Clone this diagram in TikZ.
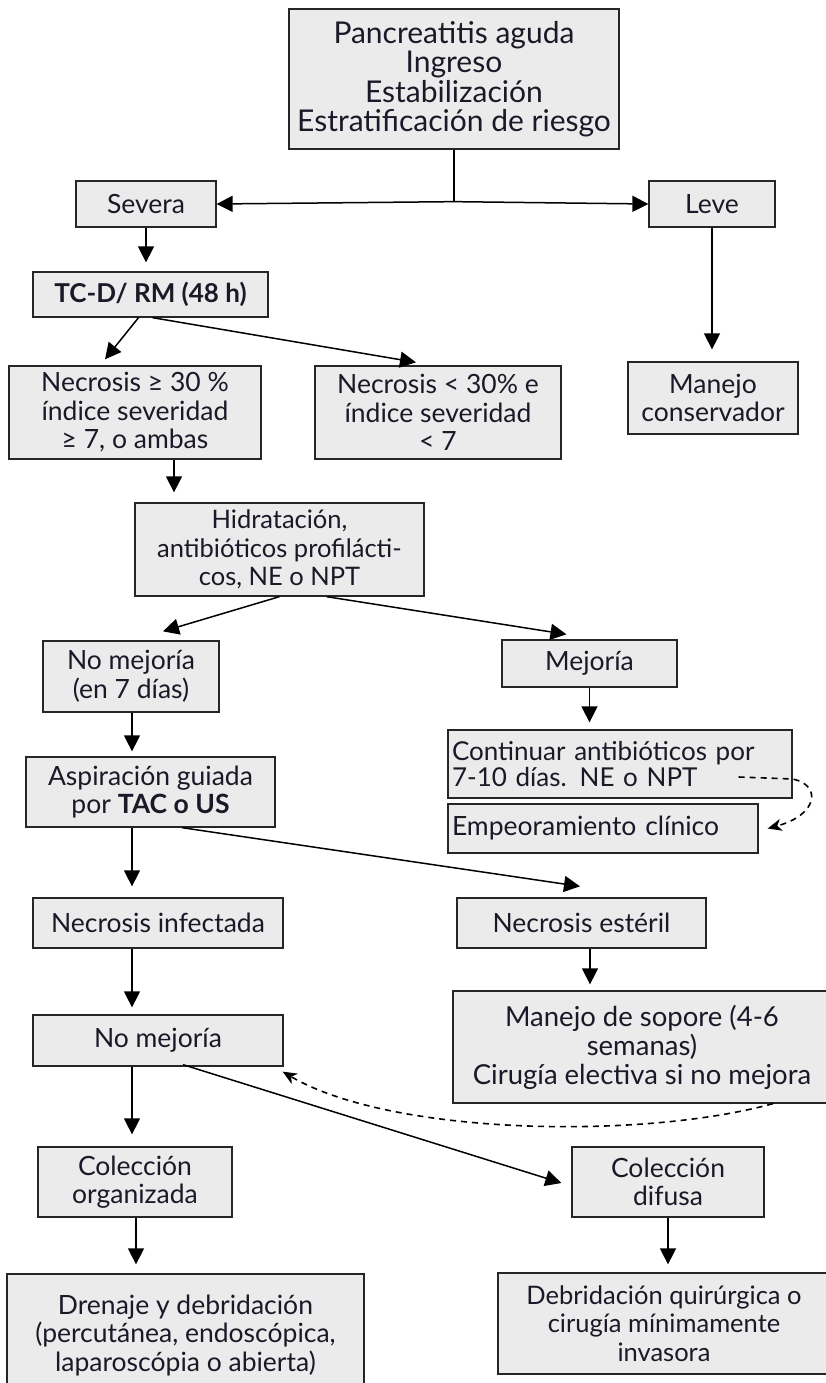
\documentclass[tikz,border=0pt]{standalone}
\usepackage{fontspec}
\setmainfont{Lato}
\usetikzlibrary{arrows.meta,calc}
\definecolor{boxgray}{RGB}{235,235,235}
\definecolor{ink}{RGB}{25,25,40}
\begin{document}
\begin{tikzpicture}[x=1pt,y=-1pt,
    box/.style={draw=black!85, line width=1.3pt, fill=boxgray, align=center,
                inner sep=0pt, text=ink, font=\fontsize{26.5}{28.5}\selectfont},
    arr/.style={-{Triangle[length=16pt,width=16pt]}, line width=1.5pt},
    back/.style={-{Stealth[length=14pt,width=12pt,inset=4pt]}, line width=1.6pt,
                 dash pattern=on 6pt off 5pt}]
  \useasboundingbox (0,0) rectangle (826,1383);

  % boxes, top to bottom
  \node[box, minimum width=330pt, minimum height=140pt, font=\fontsize{30}{29.5}\selectfont]
    (ingreso) at (454,79)
    {Pancreatitis aguda\\Ingreso\\Estabilización\\Estratificación de riesgo};
  \node[box, minimum width=140pt, minimum height=46pt] (severa) at (146,204) {Severa};
  \node[box, minimum width=126pt, minimum height=46pt] (leve) at (712,204) {Leve};
  \node[box, minimum width=235pt, minimum height=45pt, font=\fontsize{26}{28}\selectfont\bfseries]
    (tcd) at (150.5,294.5) {TC-D/ RM (48 h)};
  \node[box, minimum width=252pt, minimum height=93pt] (necmayor) at (135,412.5)
    {Necrosis ≥ 30 \%\\índice severidad\\≥ 7, o ambas};
  \node[box, minimum width=246pt, minimum height=93pt] (necmenor) at (438,412.5)
    {Necrosis < 30\% e\\índice severidad\\< 7};
  \node[box, minimum width=170pt, minimum height=72pt] (conserv) at (713,398)
    {Manejo\\conservador};
  \node[box, minimum width=289pt, minimum height=93pt, font=\fontsize{25.5}{28.5}\selectfont]
    (hidrat) at (279.5,549.5)
    {Hidratación,\\antibióticos profilácti-\\cos, NE o NPT};
  \node[box, minimum width=176pt, minimum height=71pt] (nomejsiete) at (131,676.5)
    {No mejoría\\(en 7 días)};
  \node[box, minimum width=175pt, minimum height=47pt] (mejoria) at (589.5,663.5) {Mejoría};
  \node[box, minimum width=249pt, minimum height=70pt] (aspir) at (150.5,792)
    {Aspiración guiada\\por \textbf{TAC o US}};
  \node[box, minimum width=344pt, minimum height=68pt, text width=336pt, align=left,
        font=\fontsize{26}{26}\selectfont] (continuar) at (620,764)
    {Continuar antibióticos por\\7-10 días. NE o NPT};
  \node[box, minimum width=310pt, minimum height=49pt, text width=302pt, align=left]
    (empeora) at (603,828.5) {Empeoramiento clínico};
  \node[box, minimum width=250pt, minimum height=50pt] (necinf) at (158,923) {Necrosis infectada};
  \node[box, minimum width=249pt, minimum height=50pt] (necest) at (581.5,923) {Necrosis estéril};
  \node[box, minimum width=250pt, minimum height=51pt] (nomejora) at (158,1040.5) {No mejoría};
  \node[box, minimum width=378pt, minimum height=112pt, font=\fontsize{27.5}{29}\selectfont]
    (soporte) at (642,1047)
    {Manejo de sopore (4-6\\semanas)\\Cirugía electiva si no mejora};
  \node[box, minimum width=194pt, minimum height=70pt] (colorg) at (135,1182)
    {Colección\\organizada};
  \node[box, minimum width=192pt, minimum height=70pt] (coldif) at (668,1182)
    {Colección\\difusa};
  \node[box, minimum width=357pt, minimum height=122pt] (drenaje) at (185.5,1335)
    {Drenaje y debridación\\(percutánea, endoscópica,\\laparoscópia o abierta)};
  \node[box, minimum width=332pt, minimum height=101pt, font=\fontsize{25.5}{28.5}\selectfont]
    (debrid) at (664,1323.5)
    {Debridación quirúrgica o\\cirugía mínimamente\\invasora};

  % stratification split
  \draw[line width=1.5pt] (ingreso.south) -- ++(0,52) coordinate (split);
  \draw[arr] (split) -- (severa.east);
  \draw[arr] (split) -- (leve.west);

  % severe branch
  \draw[arr, shorten >=9pt] (severa.south) -- (severa.south |- tcd.north);
  \draw[arr, shorten >=12pt] (leve.south) -- (leve.south |- conserv.north);
  \draw[arr] ($(tcd.south)+(-12,0)$) -- ($(necmayor.north)+(-30,-6)$);
  \draw[arr] ($(tcd.south)+(2,0)$) -- ($(necmenor.north)+(-22,-3)$);
  \draw[arr] ($(necmayor.south)+(39,0)$) -- ($(hidrat.north)+(-105.5,-10)$);
  \draw[arr] (hidrat.south) -- ($(nomejsiete.north)+(32,-9)$);
  \draw[arr] ($(hidrat.south)+(47,0)$) -- ($(mejoria.north)+(-23,-5)$);

  % improvement
  \draw[arr, shorten >=7pt] (mejoria.south) -- (mejoria.south |- continuar.north);
  \draw[back] ($(continuar.east)+(-54,13)$) -- ($(continuar.east)+(0,15)$)
    .. controls (822,785) and (818,815) .. ($(empeora.east)+(9,0)$);

  % no improvement
  \draw[arr] ($(nomejsiete.south)+(1,0)$) -- ($(aspir.north)+(-18.5,-5)$);
  \draw[arr] ($(aspir.south)+(-18.5,0)$) -- ($(necinf.north)+(-26,-11)$);
  \draw[arr] ($(aspir.south)+(31.5,0)$) -- ($(necest.north)+(-1.5,-11)$);
  \draw[arr] ($(necinf.south)+(-26,0)$) -- ($(nomejora.north)+(-26,-7)$);
  \draw[arr] ($(necest.south)+(8.5,0)$) -- ($(soporte.north)+(-52,-6)$);
  \draw[back] ($(soporte.south)+(131,0)$) .. controls (640,1140) and (390,1135)
    .. ($(nomejora.south east)+(-1,5)$);

  % infected necrosis
  \draw[arr] ($(nomejora.south)+(-26,0)$) -- ($(colorg.north)+(-3,-12)$);
  \draw[arr] ($(nomejora.south)+(25,-2)$) -- ($(coldif.west)+(-10,1)$);
  \draw[arr] ($(colorg.south)+(1,0)$) -- ($(drenaje.north)+(-49.5,-9)$);
  \draw[arr] (coldif.south) -- ($(debrid.north)+(4,-8)$);
\end{tikzpicture}
\end{document}
